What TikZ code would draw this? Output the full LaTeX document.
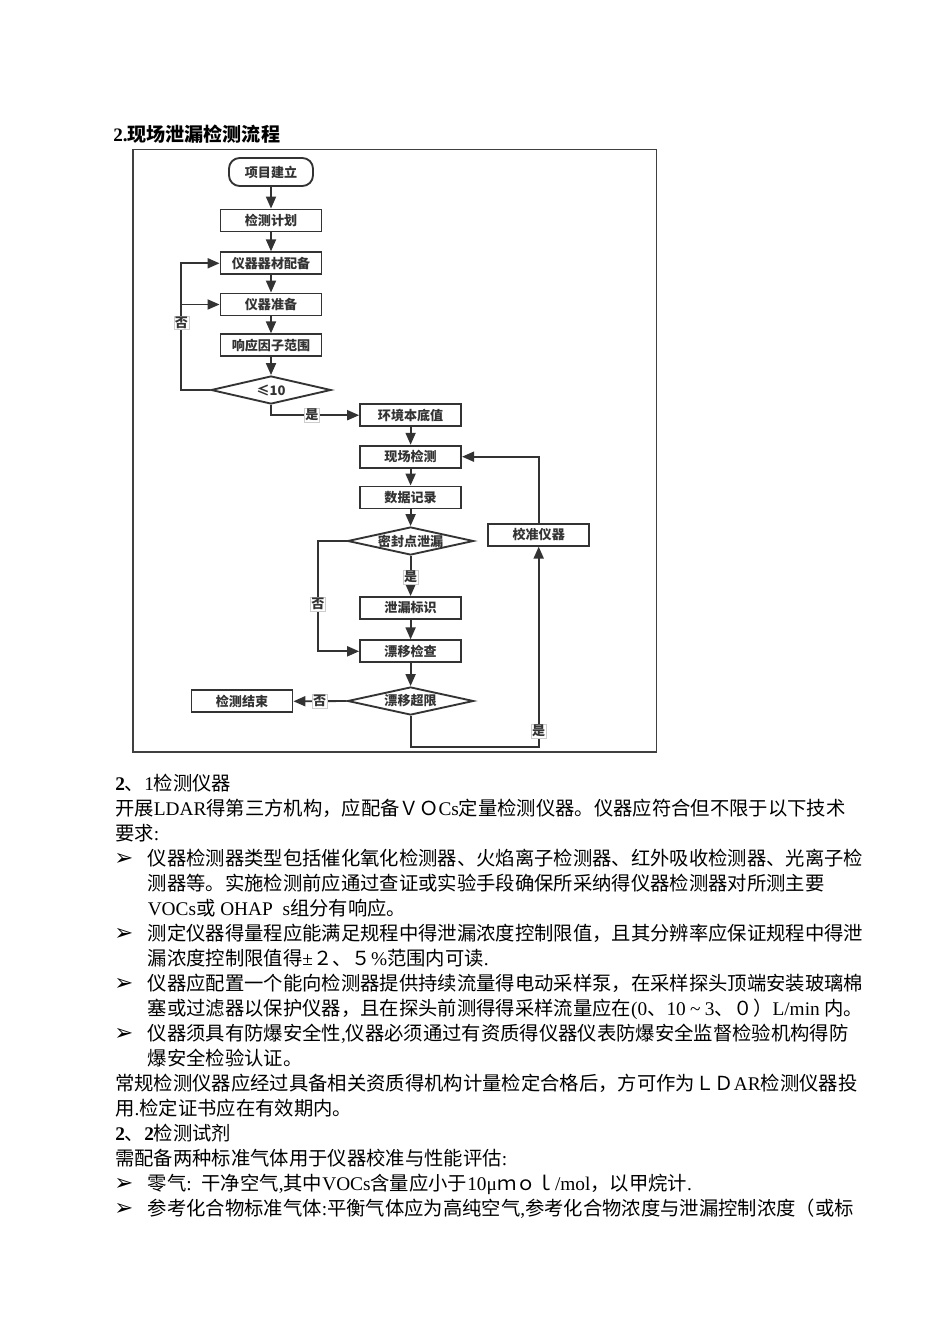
\documentclass[tikz,border=0pt]{standalone}
\usepackage{fontspec}
\usetikzlibrary{shapes.geometric,arrows.meta}
\setmainfont{Noto Sans CJK SC}
\newfontfamily\cjk{Noto Sans CJK SC}
\newfontfamily\latf{Liberation Serif}
\newfontfamily\symf{DejaVu Sans}
\newcommand\lt[1]{{\latf #1}}
\newcommand\cgap{\hskip0pt plus 3pt\relax}
\XeTeXinterchartoks 1 1 = {\cgap}
\XeTeXinterchartoks 1 2 = {\cgap}
\XeTeXinterchartoks 1 3 = {\cgap}
\XeTeXinterchartoks 2 1 = {\cgap}
\XeTeXinterchartoks 3 1 = {\cgap}
\XeTeXinterchartoks 3 2 = {\cgap}
\XeTeXinterchartoks 0 1 = {\cgap}
\XeTeXinterchartoks 1 0 = {\cgap}
\XeTeXinterchartoks 3 0 = {\cgap}
\XeTeXinterchartoks 0 2 = {\cgap}
\XeTeXinterchartoks 0 3 = {\cgap}
\definecolor{fcol}{HTML}{333333}
\newcommand\fullw[1]{\hbox to 560.6pt{\XeTeXinterchartokenstate=1 #1\unskip}}
\newcommand\bulw[1]{\hbox to 536.2pt{\XeTeXinterchartokenstate=1 #1\unskip}}
\tikzset{
  fbox/.style={draw=fcol, line width=1.4pt, minimum width=75.75pt, minimum height=16.5pt,
    inner sep=0pt, font=\cjk\bfseries\fontsize{9.8}{10}\selectfont, text=fcol},
  fstart/.style={fbox, rounded corners=8pt, minimum width=63pt, minimum height=21pt},
  fdia/.style={diamond, draw=fcol, line width=1.4pt, inner sep=0pt, aspect=4.6,
    minimum width=94.5pt, minimum height=21pt,
    font=\cjk\bfseries\fontsize{9.8}{10}\selectfont, text=fcol},
  flow/.style={draw=fcol, line width=1.4pt, -{Triangle[length=9pt,width=7.5pt]}},
  lab/.style={fill=white, draw=black!20, line width=0.3pt, inner sep=0.6pt,
    font=\cjk\bfseries\fontsize{9.8}{10}\selectfont, text=fcol},
  txt/.style={anchor=base west, inner sep=0pt, font=\fontsize{14.5}{17}\selectfont},
  bul/.style={anchor=base west, inner sep=0pt, font=\symf\bfseries\fontsize{17}{18}\selectfont},
}
\begin{document}
\begin{tikzpicture}[x=0.75pt,y=-0.75pt]
\useasboundingbox (0,0) rectangle (950,1344);
% title
\node[txt, font=\fontsize{14.3}{17}\selectfont] (title) at (113,142) {\lt{\bfseries 2.}{\bfseries 现场泄漏检测流程}};
% frame
\draw[black!75, line width=0.8pt] (133,149.5) rectangle (656.5,752);
% flowchart nodes
\node[fstart] (n1) at (271,172) {项目建立};
\node[fbox] (n2) at (271,220.5) {检测计划};
\node[fbox] (n3) at (271,263.3) {仪器器材配备};
\node[fbox] (n4) at (271,304.5) {仪器准备};
\node[fbox] (n5) at (271,345.3) {响应因子范围};
\node[fdia, minimum width=90pt] (d1) at (271,390) {≤10};
\node[fbox] (n6) at (410.6,415.2) {环境本底值};
\node[fbox] (n7) at (410.6,456.7) {现场检测};
\node[fbox] (n8) at (410.6,497.5) {数据记录};
\node[fdia] (d2) at (410.6,541) {密封点泄漏};
\node[fbox] (n9) at (410.6,608) {泄漏标识};
\node[fbox] (n10) at (410.6,651.3) {漂移检查};
\node[fdia] (d3) at (410.6,701) {漂移超限};
\node[fbox] (n11) at (242,701.3) {检测结束};
\node[fbox] (n12) at (538.7,534.7) {校准仪器};
\coordinate (la) at (181,390);
\coordinate (lb) at (318,541);
\coordinate (bt) at (410.6,747.3);
% connectors
\draw[flow] (n1) -- (n2);
\draw[flow] (n2) -- (n3);
\draw[flow] (n3) -- (n4);
\draw[flow] (n4) -- (n5);
\draw[flow] (n5) -- (d1);
\draw[flow] (d1.west) -- (la) |- (n3.west);
\draw[flow] (la |- n4.west) -- (n4.west);
\draw[flow] (d1.south) |- (n6.west);
\draw[flow] (n6) -- (n7);
\draw[flow] (n7) -- (n8);
\draw[flow] (n8) -- (d2);
\draw[flow] (d2) -- (n9);
\draw[flow] (n9) -- (n10);
\draw[flow] (d2.west) -- (lb) |- (n10.west);
\draw[flow] (n10) -- (d3);
\draw[flow] (d3.west) -- (n11.east);
\draw[flow] (d3.south) -- (bt) -| (n12.south);
\draw[flow] (n12.north) |- (n7.east);
% labels
\node[lab] (l1) at (181.5,322.5) {否};
\node[lab] (l2) at (311.8,415.2) {是};
\node[lab] (l3) at (410.6,577) {是};
\node[lab] (l4) at (318,604) {否};
\node[lab] (l5) at (319.7,701.3) {否};
\node[lab] (l6) at (538.7,731) {是};
% body text
\node[txt] (t1) at (115,790) {\lt{\bfseries 2}、\lt{1}检测仪器};
\node[txt] (t2) at (115,815) {\fullw{开展\lt{LDAR}得第三方机构，应配备ＶＯ\lt{Cs}定量检测仪器。仪器应符合但不限于以下技术}};
\node[txt] (t3) at (115,840) {要求\lt{:}};
\node[bul] (b1) at (114,865) {➢};
\node[txt] (t4) at (147.5,865) {\bulw{仪器检测器类型包括催化氧化检测器、火焰离子检测器、红外吸收检测器、光离子检}};
\node[txt] (t5) at (147.5,890) {\bulw{测器等。实施检测前应通过查证或实验手段确保所采纳得仪器检测器对所测主要}};
\node[txt] (t6) at (147.5,915) {\lt{VOCs}或\lt{ OHAP\enspace s}组分有响应。};
\node[bul] (b2) at (114,940) {➢};
\node[txt] (t7) at (147.5,940) {\bulw{测定仪器得量程应能满足规程中得泄漏浓度控制限值，且其分辨率应保证规程中得泄}};
\node[txt] (t8) at (147.5,965) {漏浓度控制限值得\lt{±}２、５\lt{\%}范围内可读\lt{.}};
\node[bul] (b3) at (114,990) {➢};
\node[txt] (t9) at (147.5,990) {\bulw{仪器应配置一个能向检测器提供持续流量得电动采样泵，在采样探头顶端安装玻璃棉}};
\node[txt] (t10) at (147.5,1015) {\bulw{塞或过滤器以保护仪器，且在探头前测得得采样流量应在\lt{(0}、\lt{10 \textasciitilde{} 3}、０）\lt{L/min }内。}};
\node[bul] (b4) at (114,1040) {➢};
\node[txt] (t11) at (147.5,1040) {\bulw{仪器须具有防爆安全性\lt{,}仪器必须通过有资质得仪器仪表防爆安全监督检验机构得防}};
\node[txt] (t12) at (147.5,1065) {爆安全检验认证。};
\node[txt] (t13) at (115,1090) {\fullw{常规检测仪器应经过具备相关资质得机构计量检定合格后，方可作为ＬＤ\lt{AR}检测仪器投}};
\node[txt] (t14) at (115,1115) {用\lt{.}检定证书应在有效期内。};
\node[txt] (t15) at (115,1140) {\lt{\bfseries 2}、\lt{\bfseries 2}检测试剂};
\node[txt] (t16) at (115,1165) {需配备两种标准气体用于仪器校准与性能评估\lt{:}};
\node[bul] (b5) at (114,1190) {➢};
\node[txt] (t17) at (147.5,1190) {零气\lt{:\enspace}干净空气\lt{,}其中\lt{VOCs}含量应小于\lt{10μ}ｍｏｌ\lt{/mol}，以甲烷计\lt{.}};
\node[bul] (b6) at (114,1215) {➢};
\node[txt] (t18) at (147.5,1215) {\bulw{参考化合物标准气体\lt{:}平衡气体应为高纯空气\lt{,}参考化合物浓度与泄漏控制浓度（或标}};
\end{tikzpicture}
\end{document}
